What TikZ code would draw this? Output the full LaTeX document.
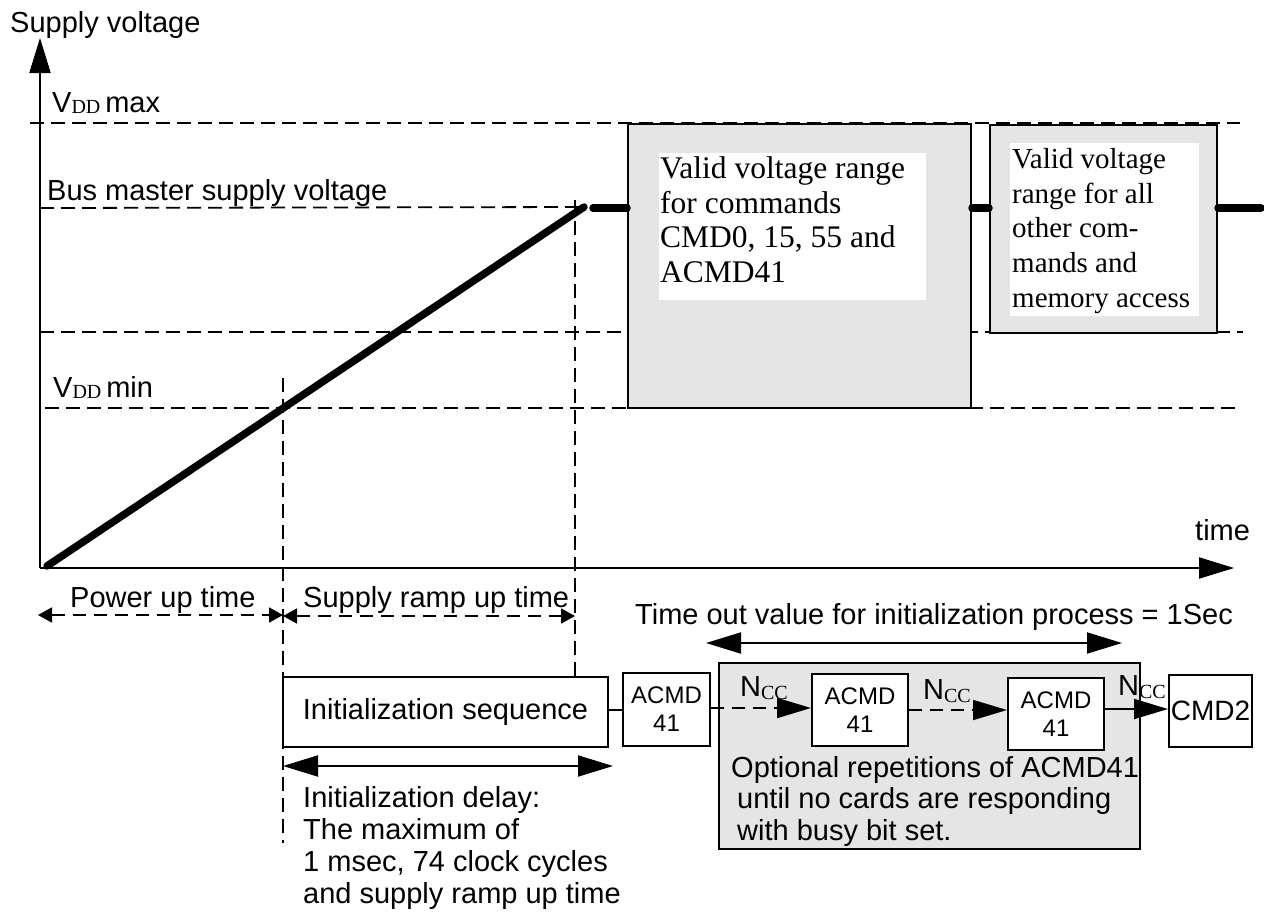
\documentclass[tikz,border=0pt]{standalone}
\usepackage{fontspec}
\setmainfont{Liberation Serif}
\newfontfamily\ars{Liberation Sans}
\newfontfamily\tms{Liberation Serif}
\usetikzlibrary{arrows.meta}
\tikzset{
  bigtip/.tip={Triangle[length=35pt,width=21pt]},
  midtip/.tip={Triangle[length=34pt,width=20pt]},
  smalltip/.tip={Triangle[length=14pt,width=15pt]},
}
\begin{document}
\begin{tikzpicture}[x=1pt,y=-1pt,
  sans/.style={font=\ars\fontsize{29}{32}\selectfont, inner sep=0pt, anchor=base west},
  para/.style={font=\ars\fontsize{29}{31.5}\selectfont, inner sep=0pt, anchor=north west, align=left},
  thinline/.style={line width=2pt},
  dsh/.style={line width=1.8pt, dash pattern=on 14pt off 7pt},
  dshc/.style={line width=1.8pt, dash pattern=on 13pt off 8pt},
  heavy/.style={line width=7.5pt, line cap=round},
  graybox/.style={draw, line width=2pt, fill=gray!20, inner sep=0pt, anchor=north west},
  whitebox/.style={fill=white, inner sep=0pt, anchor=north west},
  cmdbox/.style={draw, line width=2pt, fill=white, inner sep=0pt, align=center, font=\ars\fontsize{24}{28}\selectfont},
]
\useasboundingbox (0,0) rectangle (1264,911);

% key coordinates
\coordinate (O) at (40,568);
\coordinate (ytop) at (40,38);
\coordinate (xend) at (1234,568);
\coordinate (ramp0) at (47,566);
\coordinate (ramptop) at (584,207);
\coordinate (lvl) at (593,208);
\coordinate (rend) at (1261,208);

% reference dashed lines
\draw[dsh] (30,123) -- (1240,123);
\draw[dsh] (40,208) -- (ramptop);
\draw[dsh] (40,332) -- (1243,332);
\draw[dsh] (45,408) -- (1240,408);
\draw[dsh] (283,378) -- (283,843);
\draw[dsh] (575,200) -- (575,677);

% axes
\draw[thinline,-bigtip] (O) -- (ytop);
\draw[thinline,-bigtip] (O) -- (xend);

% ramp
\draw[heavy] (ramp0) -- (ramptop);

% voltage boxes
\node[graybox, minimum width=343pt, minimum height=284pt] (box1) at (627,123) {};
\node[graybox, minimum width=227pt, minimum height=208pt] (box2) at (989,124) {};
\draw[heavy] (lvl) -- (lvl -| box1.west);
\draw[heavy] (lvl -| box1.east) -- (lvl -| box2.west);
\draw[heavy] (lvl -| box2.east) -- (rend);
\node[graybox, minimum width=343pt, minimum height=284pt, fill=none] at (627,123) {};
\node[graybox, minimum width=227pt, minimum height=208pt, fill=none] at (989,124) {};
\node[whitebox, minimum width=267pt, minimum height=147pt] (box1w) at (659,153) {};
\node[whitebox, minimum width=189pt, minimum height=173pt] (box2w) at (1010,143) {};
\node[font=\tms\fontsize{31.5}{34.5}\selectfont, align=left, inner sep=0pt, anchor=north west] (box1t) at (660,156.5)
  {Valid voltage range\\for commands\\CMD0, 15, 55 and\\ACMD41};
\node[font=\tms\fontsize{29}{34.75}\selectfont, align=left, inner sep=0pt, anchor=north west] (box2t) at (1012,148)
  {Valid voltage\\range for all\\other com-\\mands and\\memory access};

% axis labels
\node[sans] (ylab) at (10,32) {Supply voltage};
\node[sans] (tlab) at (1195,540) {time};
\node[sans] (vmax) at (52,112) {V\raisebox{-1pt}{\tms\fontsize{20}{20}\selectfont DD}\,max};
\node[sans] (bus) at (47,200) {Bus master supply voltage};
\node[sans] (vmin) at (53,397) {V\raisebox{-1pt}{\tms\fontsize{20}{20}\selectfont DD}\,min};

% time spans
\coordinate (pu1) at (38,615);
\coordinate (pu2) at (283,615);
\coordinate (sr1) at (283,616);
\coordinate (sr2) at (575,616);
\draw[dshc, smalltip-smalltip] (pu1) -- (pu2);
\draw[dshc, smalltip-smalltip] (sr1) -- (sr2);
\node[sans] (pul) at (70,607) {Power up time};
\node[sans] (srl) at (303,607) {Supply ramp up time};

% time out
\node[sans] (tol) at (635,624) {Time out value for initialization process = 1Sec};
\coordinate (to1) at (706,643);
\coordinate (to2) at (1122,643);
\draw[thinline, bigtip-bigtip] (to1) -- (to2);

% command sequence
\node[cmdbox, minimum width=325pt, minimum height=70pt, font=\ars\fontsize{29}{32}\selectfont] (init) at (445.5,712) {Initialization sequence};
\node[graybox, minimum width=421pt, minimum height=186pt] (rep) at (718,662) {};
\node[cmdbox, minimum width=87pt, minimum height=73pt] (acmd1) at (666.5,709.5) {ACMD\\41};
\node[cmdbox, minimum width=96pt, minimum height=72pt] (acmd2) at (860,710) {ACMD\\41};
\node[cmdbox, minimum width=96pt, minimum height=72pt] (acmd3) at (1056,714) {ACMD\\41};
\node[cmdbox, minimum width=83pt, minimum height=72pt, font=\ars\fontsize{28}{32}\selectfont] (cmd2) at (1210.5,711) {CMD2};

\draw[thinline] (init.east |- 0,710) -- (acmd1.west |- 0,710);
\draw[dshc, -midtip] (acmd1.east |- 0,708) -- (acmd2.west |- 0,708);
\draw[dshc, -midtip] (acmd2.east |- 0,710) -- (acmd3.west |- 0,710);
\draw[thinline, -midtip] (acmd3.east |- 0,709) -- (cmd2.west |- 0,709);

\node[sans] (n1) at (740,696) {N\raisebox{-3pt}{\tms\fontsize{20}{20}\selectfont CC}};
\node[sans] (n2) at (923,699) {N\raisebox{-3pt}{\tms\fontsize{20}{20}\selectfont CC}};
\node[sans] (n3) at (1118,695) {N\raisebox{-3pt}{\tms\fontsize{20}{20}\selectfont CC}};

\node[para] (rept) at (731,756) {Optional repetitions of ACMD41\\\hspace*{6pt}until no cards are responding\\\hspace*{6pt}with busy bit set.};

% initialization delay
\coordinate (id1) at (283,766);
\coordinate (id2) at (613,766);
\draw[thinline, bigtip-bigtip] (id1) -- (id2);
\node[para, font=\ars\fontsize{29}{32}\selectfont] (idt) at (303,786) {Initialization delay:\\The maximum of\\1 msec, 74 clock cycles\\and supply ramp up time};
\end{tikzpicture}
\end{document}
